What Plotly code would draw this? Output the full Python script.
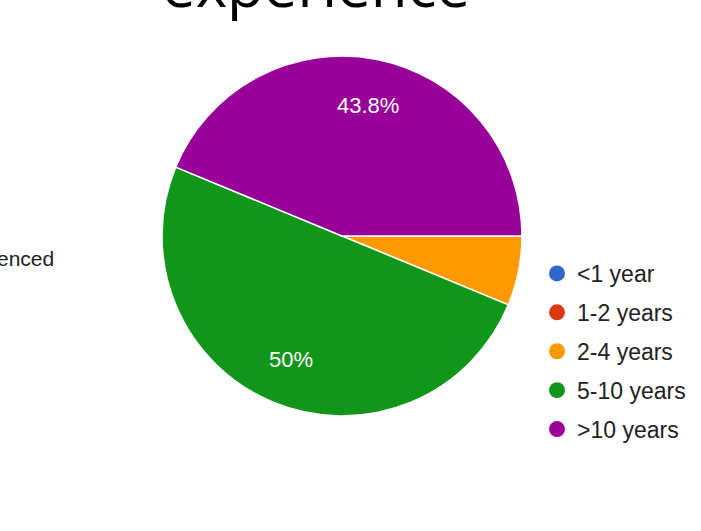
import math
import plotly.graph_objects as go

# Years of experience among respondents
categories = ["<1 year", "1-2 years", "2-4 years", "5-10 years", ">10 years"]
counts = [0, 0, 1, 8, 7]
colors = ["#3366CC", "#DC3912", "#FF9900", "#109618", "#990099"]
# Small slices are left unlabelled
show_label = [False, False, False, True, True]

W, H = 701, 531
cx, cy, r = 342, 236, 180
start_angle = 90  # degrees clockwise from 12 o'clock

fig = go.Figure()

fig.add_trace(go.Pie(
    labels=categories,
    values=counts,
    sort=False,
    direction="clockwise",
    rotation=start_angle,
    marker=dict(colors=colors, line=dict(color="white", width=1.5)),
    textinfo="none",
    showlegend=False,
    hoverinfo="label+value+percent",
    domain=dict(x=[(cx - r) / W, (cx + r) / W], y=[(H - cy - r) / H, (H - cy + r) / H]),
))

# Circle legend entries
for i, (name, col) in enumerate(zip(categories, colors)):
    fig.add_trace(go.Scatter(
        x=[None], y=[None], mode="markers", name=name,
        marker=dict(symbol="circle", size=20, color=col),
        legendgroup=f"g{i}", showlegend=True, hoverinfo="skip",
    ))


def fmt_pct(frac):
    s = f"{frac * 100:.1f}"
    if s.endswith(".0"):
        s = s[:-2]
    return s + "%"


# Percentage labels placed along each slice's bisector
annotations = []
total = sum(counts)
acc = 0
for c, show in zip(counts, show_label):
    mid = start_angle + (acc + c / 2) / total * 360
    acc += c
    if not show or c == 0:
        continue
    rad = math.radians(mid)
    px = cx + 0.74 * r * math.sin(rad)
    py = cy - 0.74 * r * math.cos(rad)
    annotations.append(dict(
        text=fmt_pct(c / total), x=px / W, y=1 - py / H, xref="paper", yref="paper",
        xanchor="center", yanchor="middle", showarrow=False,
        font=dict(family="Liberation Sans, Arial, sans-serif", size=22, color="white"),
    ))

annotations += [
    dict(text="experience", x=316 / W, y=1 - 27 / H, xref="paper", yref="paper",
         xanchor="center", yanchor="bottom", showarrow=False,
         font=dict(family="Open Sans, sans-serif", size=60, color="#000000")),
    dict(text="enced", x=56 / W, y=1 - 258 / H, xref="paper", yref="paper",
         xanchor="right", yanchor="middle", showarrow=False,
         font=dict(family="Liberation Sans, Arial, sans-serif", size=21, color="#222222")),
]

fig.update_layout(
    width=W, height=H,
    margin=dict(l=0, r=0, t=0, b=0),
    paper_bgcolor="white", plot_bgcolor="white",
    xaxis=dict(visible=False), yaxis=dict(visible=False),
    legend=dict(
        x=537 / W, y=1 - 252 / H, xanchor="left", yanchor="top",
        font=dict(family="Liberation Sans, Arial, sans-serif", size=23, color="#222222"),
        traceorder="grouped", tracegroupgap=6,
        bgcolor="rgba(0,0,0,0)", itemsizing="trace",
    ),
    annotations=annotations,
)

fig.write_html("out.html")
